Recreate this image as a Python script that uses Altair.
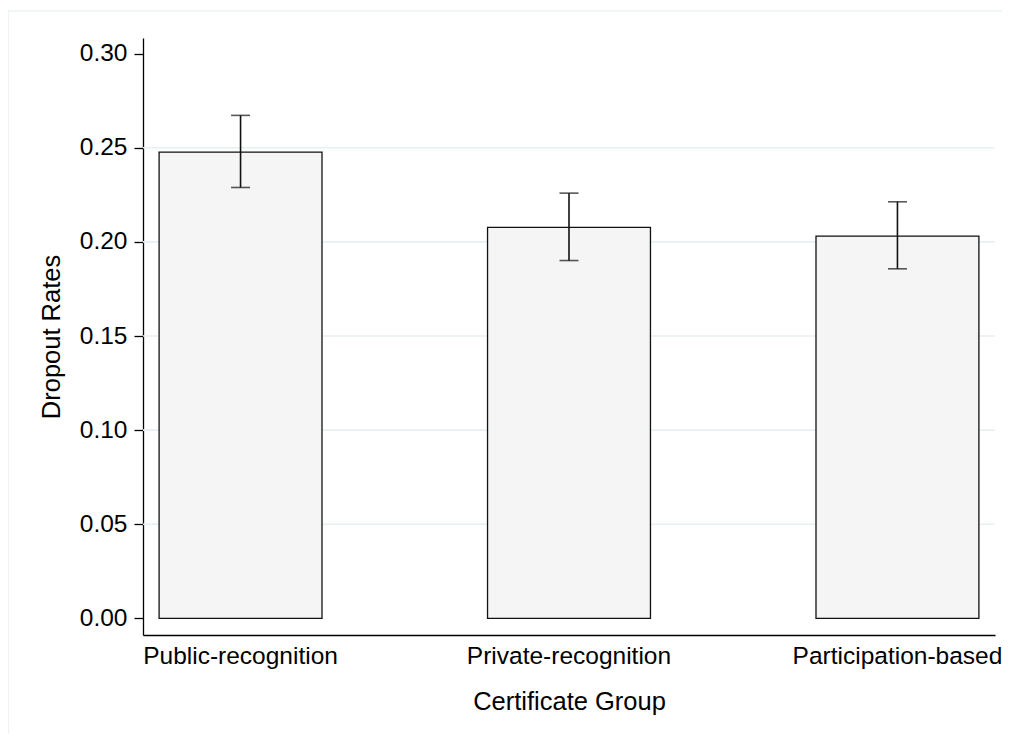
import altair as alt
import pandas as pd

groups = ["Public-recognition", "Private-recognition", "Participation-based"]
rates = [0.2477, 0.2077, 0.2031]
ci_low = [0.2289, 0.1901, 0.1857]
ci_high = [0.2672, 0.2259, 0.2213]
y_ticks = [0.00, 0.05, 0.10, 0.15, 0.20, 0.25, 0.30]
grid_values = [0.05, 0.10, 0.15, 0.20, 0.25]

df = pd.DataFrame({"group": groups, "rate": rates, "lo": ci_low, "hi": ci_high})
grid_df = pd.DataFrame({"g": grid_values})

FONT = "Liberation Sans"
FS_T = 25.5
FS_X = 24.5
FS_Y = 24.5
W, H = 852, 597
INK = "#111111"

yscale = alt.Scale(domain=[-0.0088, 0.3083], nice=False, zero=False)
xscale = alt.Scale(domain=groups, paddingInner=0.504, paddingOuter=0.049)

x_enc = alt.X(
    "group:N",
    sort=groups,
    scale=xscale,
    axis=alt.Axis(
        title="Certificate Group",
        labelAngle=0,
        labelLimit=0,
        ticks=False,
        labelPadding=9,
        titlePadding=22,
        domainColor="#000000",
        domainWidth=1.3,
        labelFontSize=FS_X,
        titleFontSize=FS_T,
        labelFont=FONT,
        titleFont=FONT,
        titleFontWeight="normal",
        labelColor="#000000",
        titleColor="#000000",
        grid=False,
    ),
)

y_axis = alt.Axis(
    title="Dropout Rates",
    values=y_ticks,
    format=".2f",
    tickSize=9,
    tickColor="#000000",
    tickWidth=1.3,
    labelPadding=7,
    titlePadding=15,
    domainColor="#000000",
    domainWidth=1.3,
    labelFontSize=FS_Y,
    titleFontSize=FS_T,
    labelFont=FONT,
    titleFont=FONT,
    titleFontWeight="normal",
    labelColor="#000000",
    titleColor="#000000",
    grid=False,
)

border = alt.Chart(grid_df.head(1)).mark_rect(
    fill=None, stroke="#e6ecee", strokeWidth=1.2, clip=False
).encode(
    x=alt.value(-135), x2=alt.value(1000), y=alt.value(-27), y2=alt.value(900)
)

grid = alt.Chart(grid_df).mark_rule(color="#e8eff2", strokeWidth=1.6).encode(
    y=alt.Y("g:Q", scale=yscale, axis=y_axis)
)

bars = alt.Chart(df).mark_bar(
    fill="#f5f5f5", stroke=INK, strokeWidth=1.3
).encode(
    x=x_enc,
    y=alt.Y("rate:Q", scale=yscale, axis=y_axis),
    y2=alt.datum(0),
)

whisk = alt.Chart(df).mark_rule(color=INK, strokeWidth=1.6).encode(
    x=alt.X("group:N", sort=groups, scale=xscale),
    y=alt.Y("lo:Q", scale=yscale),
    y2="hi:Q",
)

cap_lo = alt.Chart(df).mark_tick(color=INK, size=19, thickness=1.6).encode(
    x=alt.X("group:N", sort=groups, scale=xscale),
    y=alt.Y("lo:Q", scale=yscale),
)
cap_hi = alt.Chart(df).mark_tick(color=INK, size=19, thickness=1.6).encode(
    x=alt.X("group:N", sort=groups, scale=xscale),
    y=alt.Y("hi:Q", scale=yscale),
)

chart = alt.layer(border, grid, bars, whisk, cap_lo, cap_hi).properties(
    width=W,
    height=H,
    autosize=alt.AutoSizeParams(type="none"),
    padding={"left": 135, "top": 30, "right": 7, "bottom": 99},
    background="white",
).configure_view(stroke=None)

chart.save("out.html", embed_options={"renderer": "svg", "actions": False})
